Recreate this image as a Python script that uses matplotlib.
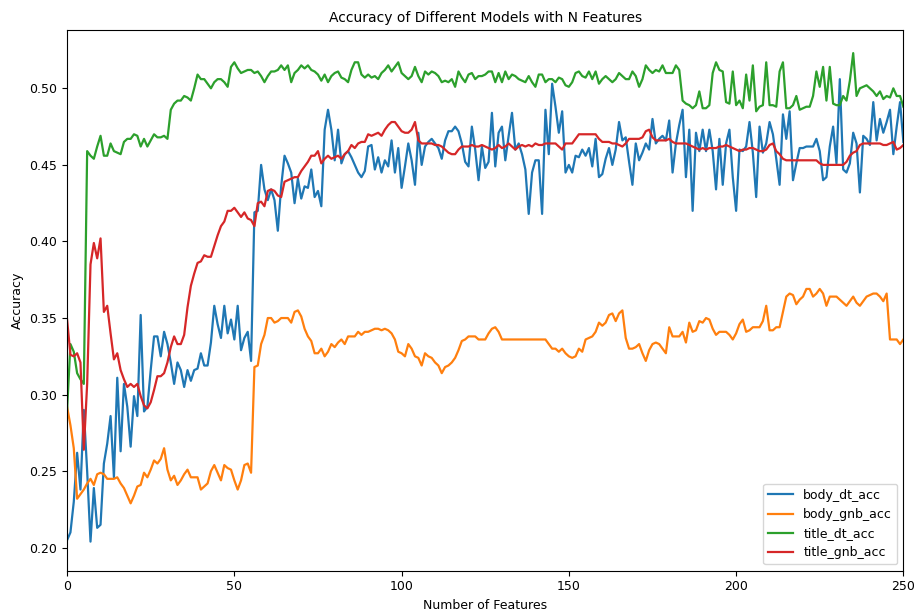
import numpy as np
import matplotlib.pyplot as plt

n_features = np.arange(0, 251)

body_dt_acc = [
    0.205, 0.210, 0.230, 0.262, 0.238, 0.290, 0.250, 0.204, 0.239, 0.213,
    0.215, 0.255, 0.268, 0.286, 0.246, 0.311, 0.263, 0.307, 0.292, 0.266,
    0.299, 0.286, 0.352, 0.289, 0.292, 0.316, 0.338, 0.338, 0.325, 0.341,
    0.333, 0.321, 0.307, 0.321, 0.316, 0.305, 0.316, 0.309, 0.316, 0.317,
    0.327, 0.319, 0.319, 0.334, 0.358, 0.346, 0.337, 0.358, 0.340, 0.349,
    0.336, 0.358, 0.329, 0.337, 0.341, 0.322, 0.419, 0.420, 0.450, 0.434,
    0.427, 0.434, 0.427, 0.407, 0.436, 0.456, 0.451, 0.445, 0.425, 0.441,
    0.428, 0.436, 0.435, 0.447, 0.429, 0.433, 0.423, 0.473, 0.486, 0.473,
    0.453, 0.473, 0.451, 0.457, 0.459, 0.455, 0.450, 0.445, 0.442, 0.446,
    0.462, 0.463, 0.447, 0.455, 0.445, 0.453, 0.449, 0.466, 0.445, 0.461,
    0.435, 0.449, 0.464, 0.453, 0.437, 0.471, 0.450, 0.462, 0.465, 0.467,
    0.464, 0.461, 0.454, 0.466, 0.472, 0.472, 0.475, 0.472, 0.464, 0.452,
    0.449, 0.475, 0.460, 0.440, 0.462, 0.448, 0.452, 0.484, 0.449, 0.471,
    0.475, 0.453, 0.469, 0.484, 0.460, 0.464, 0.457, 0.447, 0.418, 0.445,
    0.453, 0.453, 0.418, 0.486, 0.457, 0.503, 0.488, 0.471, 0.485, 0.445,
    0.450, 0.445, 0.456, 0.455, 0.460, 0.456, 0.461, 0.449, 0.467, 0.442,
    0.444, 0.454, 0.461, 0.450, 0.460, 0.478, 0.466, 0.468, 0.452, 0.437,
    0.464, 0.453, 0.458, 0.464, 0.460, 0.480, 0.464, 0.467, 0.469, 0.466,
    0.479, 0.445, 0.464, 0.476, 0.486, 0.442, 0.473, 0.420, 0.471, 0.459,
    0.473, 0.459, 0.473, 0.459, 0.434, 0.467, 0.437, 0.464, 0.473, 0.442,
    0.420, 0.460, 0.459, 0.462, 0.478, 0.458, 0.429, 0.475, 0.458, 0.464,
    0.478, 0.470, 0.454, 0.437, 0.483, 0.467, 0.485, 0.440, 0.451, 0.461,
    0.461, 0.462, 0.462, 0.462, 0.467, 0.459, 0.440, 0.442, 0.462, 0.475,
    0.451, 0.506, 0.447, 0.445, 0.451, 0.471, 0.464, 0.432, 0.469, 0.467,
    0.463, 0.491, 0.466, 0.480, 0.471, 0.478, 0.486, 0.457, 0.475, 0.491,
    0.465,
]

body_gnb_acc = [
    0.292, 0.280, 0.265, 0.232, 0.235, 0.238, 0.242, 0.245, 0.241, 0.248,
    0.249, 0.248, 0.245, 0.245, 0.245, 0.246, 0.242, 0.239, 0.234, 0.229,
    0.234, 0.240, 0.241, 0.249, 0.246, 0.251, 0.257, 0.255, 0.258, 0.265,
    0.251, 0.244, 0.247, 0.241, 0.244, 0.248, 0.251, 0.246, 0.246, 0.246,
    0.238, 0.240, 0.242, 0.250, 0.254, 0.249, 0.244, 0.254, 0.252, 0.251,
    0.244, 0.238, 0.244, 0.254, 0.255, 0.249, 0.318, 0.319, 0.333, 0.339,
    0.350, 0.350, 0.347, 0.348, 0.350, 0.350, 0.350, 0.347, 0.354, 0.355,
    0.351, 0.343, 0.338, 0.335, 0.327, 0.327, 0.330, 0.325, 0.328, 0.333,
    0.331, 0.334, 0.336, 0.333, 0.338, 0.338, 0.338, 0.341, 0.339, 0.341,
    0.341, 0.342, 0.343, 0.343, 0.342, 0.343, 0.342, 0.340, 0.336, 0.328,
    0.327, 0.325, 0.333, 0.330, 0.325, 0.324, 0.319, 0.327, 0.325, 0.324,
    0.321, 0.319, 0.314, 0.318, 0.319, 0.321, 0.324, 0.329, 0.335, 0.336,
    0.338, 0.338, 0.338, 0.336, 0.336, 0.336, 0.340, 0.343, 0.344, 0.341,
    0.336, 0.336, 0.336, 0.336, 0.336, 0.336, 0.336, 0.336, 0.336, 0.336,
    0.336, 0.336, 0.336, 0.336, 0.333, 0.330, 0.330, 0.328, 0.330, 0.327,
    0.325, 0.324, 0.325, 0.330, 0.328, 0.336, 0.337, 0.338, 0.341, 0.347,
    0.345, 0.347, 0.352, 0.353, 0.348, 0.353, 0.355, 0.337, 0.330, 0.330,
    0.331, 0.333, 0.327, 0.322, 0.329, 0.333, 0.334, 0.333, 0.330, 0.327,
    0.344, 0.338, 0.338, 0.338, 0.341, 0.334, 0.347, 0.341, 0.342, 0.348,
    0.347, 0.350, 0.349, 0.343, 0.339, 0.341, 0.341, 0.341, 0.339, 0.336,
    0.340, 0.346, 0.349, 0.341, 0.342, 0.344, 0.344, 0.344, 0.348, 0.358,
    0.342, 0.342, 0.344, 0.344, 0.354, 0.364, 0.366, 0.365, 0.359, 0.362,
    0.364, 0.369, 0.369, 0.364, 0.366, 0.369, 0.366, 0.358, 0.364, 0.364,
    0.364, 0.362, 0.360, 0.358, 0.361, 0.364, 0.360, 0.358, 0.361, 0.364,
    0.365, 0.366, 0.366, 0.364, 0.361, 0.366, 0.336, 0.336, 0.336, 0.333,
    0.336,
]

title_dt_acc = [
    0.290, 0.333, 0.328, 0.314, 0.310, 0.307, 0.459, 0.456, 0.454, 0.462,
    0.469, 0.456, 0.456, 0.464, 0.459, 0.458, 0.457, 0.465, 0.467, 0.467,
    0.470, 0.469, 0.462, 0.467, 0.462, 0.466, 0.470, 0.468, 0.468, 0.469,
    0.467, 0.486, 0.490, 0.492, 0.492, 0.495, 0.494, 0.492, 0.500, 0.509,
    0.506, 0.506, 0.503, 0.500, 0.504, 0.506, 0.506, 0.504, 0.501, 0.514,
    0.517, 0.513, 0.510, 0.511, 0.512, 0.512, 0.510, 0.511, 0.508, 0.504,
    0.508, 0.511, 0.511, 0.512, 0.515, 0.512, 0.515, 0.504, 0.510, 0.512,
    0.515, 0.513, 0.515, 0.512, 0.511, 0.509, 0.505, 0.509, 0.504, 0.508,
    0.510, 0.511, 0.507, 0.506, 0.504, 0.512, 0.517, 0.517, 0.509, 0.507,
    0.509, 0.507, 0.508, 0.506, 0.510, 0.512, 0.515, 0.511, 0.514, 0.517,
    0.510, 0.508, 0.506, 0.508, 0.514, 0.508, 0.504, 0.511, 0.509, 0.511,
    0.510, 0.508, 0.504, 0.505, 0.504, 0.506, 0.501, 0.511, 0.507, 0.504,
    0.509, 0.510, 0.506, 0.508, 0.508, 0.509, 0.511, 0.511, 0.504, 0.510,
    0.504, 0.511, 0.506, 0.509, 0.508, 0.506, 0.505, 0.504, 0.508, 0.504,
    0.501, 0.509, 0.509, 0.504, 0.506, 0.506, 0.504, 0.507, 0.506, 0.502,
    0.501, 0.504, 0.510, 0.511, 0.508, 0.507, 0.511, 0.506, 0.511, 0.503,
    0.506, 0.508, 0.506, 0.504, 0.506, 0.510, 0.508, 0.506, 0.506, 0.511,
    0.508, 0.501, 0.506, 0.515, 0.512, 0.510, 0.512, 0.511, 0.515, 0.510,
    0.510, 0.510, 0.515, 0.512, 0.492, 0.490, 0.489, 0.487, 0.489, 0.498,
    0.487, 0.487, 0.489, 0.510, 0.517, 0.512, 0.511, 0.491, 0.490, 0.511,
    0.489, 0.492, 0.487, 0.509, 0.492, 0.515, 0.485, 0.488, 0.489, 0.517,
    0.489, 0.489, 0.488, 0.511, 0.517, 0.487, 0.487, 0.489, 0.495, 0.486,
    0.487, 0.488, 0.488, 0.495, 0.511, 0.501, 0.514, 0.492, 0.514, 0.490,
    0.489, 0.489, 0.495, 0.492, 0.505, 0.523, 0.495, 0.500, 0.501, 0.502,
    0.500, 0.498, 0.495, 0.498, 0.493, 0.495, 0.494, 0.500, 0.495, 0.495,
    0.488,
]

title_gnb_acc = [
    0.349, 0.326, 0.325, 0.327, 0.321, 0.264, 0.307, 0.385, 0.399, 0.389,
    0.402, 0.354, 0.358, 0.340, 0.323, 0.327, 0.316, 0.310, 0.305, 0.307,
    0.305, 0.307, 0.299, 0.293, 0.291, 0.295, 0.303, 0.312, 0.312, 0.314,
    0.321, 0.331, 0.338, 0.333, 0.333, 0.339, 0.357, 0.371, 0.379, 0.386,
    0.387, 0.391, 0.390, 0.390, 0.397, 0.404, 0.410, 0.413, 0.420, 0.420,
    0.422, 0.419, 0.416, 0.419, 0.415, 0.414, 0.410, 0.425, 0.426, 0.423,
    0.433, 0.434, 0.433, 0.430, 0.429, 0.439, 0.440, 0.441, 0.442, 0.442,
    0.446, 0.449, 0.452, 0.456, 0.456, 0.459, 0.451, 0.454, 0.456, 0.454,
    0.455, 0.456, 0.454, 0.457, 0.459, 0.463, 0.461, 0.464, 0.465, 0.465,
    0.470, 0.469, 0.470, 0.471, 0.469, 0.473, 0.476, 0.478, 0.478, 0.475,
    0.472, 0.471, 0.471, 0.473, 0.478, 0.466, 0.464, 0.464, 0.464, 0.464,
    0.463, 0.463, 0.462, 0.460, 0.458, 0.457, 0.457, 0.460, 0.462, 0.462,
    0.462, 0.463, 0.462, 0.462, 0.463, 0.462, 0.461, 0.460, 0.461, 0.463,
    0.461, 0.462, 0.464, 0.462, 0.460, 0.462, 0.463, 0.462, 0.463, 0.462,
    0.464, 0.463, 0.463, 0.464, 0.464, 0.464, 0.464, 0.462, 0.460, 0.464,
    0.464, 0.464, 0.467, 0.470, 0.470, 0.470, 0.470, 0.470, 0.470, 0.467,
    0.465, 0.465, 0.465, 0.464, 0.464, 0.463, 0.462, 0.464, 0.467, 0.467,
    0.467, 0.467, 0.468, 0.472, 0.473, 0.468, 0.466, 0.466, 0.466, 0.466,
    0.467, 0.465, 0.464, 0.464, 0.464, 0.464, 0.463, 0.462, 0.461, 0.460,
    0.461, 0.460, 0.461, 0.461, 0.461, 0.462, 0.462, 0.463, 0.462, 0.461,
    0.460, 0.459, 0.460, 0.460, 0.461, 0.461, 0.460, 0.459, 0.459, 0.460,
    0.463, 0.464, 0.459, 0.457, 0.454, 0.453, 0.453, 0.453, 0.453, 0.453,
    0.453, 0.453, 0.453, 0.453, 0.453, 0.451, 0.450, 0.450, 0.450, 0.450,
    0.450, 0.450, 0.450, 0.452, 0.456, 0.458, 0.459, 0.463, 0.464, 0.464,
    0.464, 0.464, 0.464, 0.464, 0.463, 0.463, 0.464, 0.465, 0.460, 0.461,
    0.463,
]

series = {
    'body_dt_acc': body_dt_acc,
    'body_gnb_acc': body_gnb_acc,
    'title_dt_acc': title_dt_acc,
    'title_gnb_acc': title_gnb_acc,
}
colors = ['#1f77b4', '#ff7f0e', '#2ca02c', '#d62728']

fig = plt.figure(figsize=(9.19, 6.15), dpi=100)
ax = fig.add_axes([0.073, 0.072, 0.910, 0.879])

for (name, vals), c in zip(series.items(), colors):
    ax.plot(n_features, vals, color=c, lw=1.6, label=name)

ax.set_xlim(0, 250)
ax.set_ylim(0.185, 0.538)
ax.set_yticks(np.arange(0.20, 0.501, 0.05))
ax.set_title('Accuracy of Different Models with N Features', fontsize=10)
ax.set_xlabel('Number of Features', fontsize=9)
ax.set_ylabel('Accuracy', fontsize=9)
ax.tick_params(labelsize=9)
ax.legend(loc='lower right', fontsize=9)

fig.savefig('out.png', dpi=100)
